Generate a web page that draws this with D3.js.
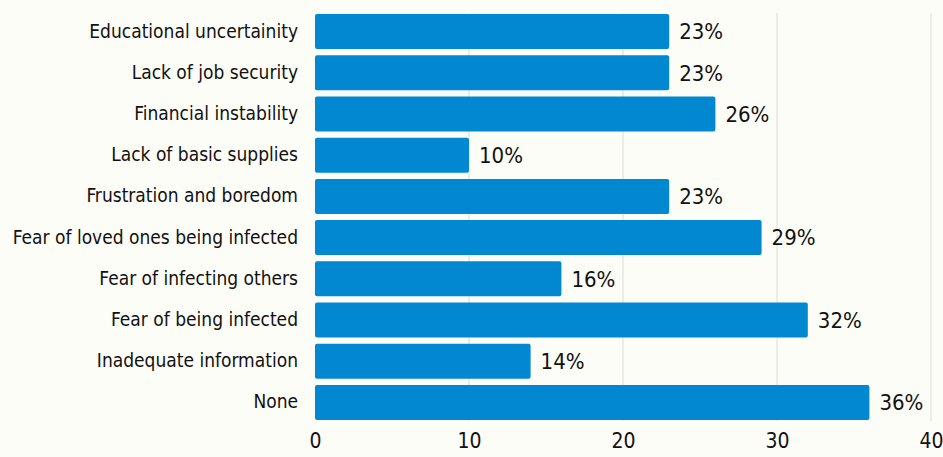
<!DOCTYPE html>
<html>
<head>
<meta charset="utf-8">
<script src="https://cdn.jsdelivr.net/npm/d3@7"></script>
<style>
  body { margin: 0; background: #fdfdf8; }
  svg text { font-family: "DejaVu Sans Condensed", "Liberation Sans Narrow", sans-serif; fill: #111; }
</style>
</head>
<body>
<div id="chart"></div>
<script>
// Categories, top to bottom
const categories = [
    "Educational uncertainity",
    "Lack of job security",
    "Financial instability",
    "Lack of basic supplies",
    "Frustration and boredom",
    "Fear of loved ones being infected",
    "Fear of infecting others",
    "Fear of being infected",
    "Inadequate information",
    "None"
];
// Share of respondents (%)
const values = [23, 23, 26, 10, 23, 29, 16, 32, 14, 36];
const xTicks = [0, 10, 20, 30, 40];

const data = categories.map((c, i) => ({ name: c, value: values[i] }));

const margin = { top: 11, right: 12, bottom: 34, left: 315 },
    width = 943 - margin.left - margin.right,
    height = 457 - margin.top - margin.bottom;

const svg = d3.select("#chart")
    .append("svg")
    .attr("width", 943)
    .attr("height", 457)
    .append("g")
    .attr("transform", "translate(" + margin.left + "," + margin.top + ")");

const x = d3.scaleLinear()
    .domain([0, 40])
    .range([0, 616]);

const y = d3.scaleBand()
    .domain(categories)
    .range([0, 412])
    .paddingInner(0.15)
    .paddingOuter(0.075);

// Gridlines
svg.append("g")
    .selectAll("line")
    .data(xTicks.slice(1))
    .join("line")
    .attr("x1", d => x(d))
    .attr("x2", d => x(d))
    .attr("y1", y.range()[0] + 2)
    .attr("y2", y.range()[1] - 2)
    .attr("stroke", "#dcdcd6")
    .attr("stroke-width", 1);

// Bars
svg.append("g")
    .selectAll("rect")
    .data(data)
    .join("rect")
    .attr("x", x(0))
    .attr("y", d => y(d.name))
    .attr("width", d => x(d.value) - x(0))
    .attr("height", y.bandwidth())
    .attr("rx", 2)
    .attr("fill", "#0288d1");

// Value labels
svg.append("g")
    .selectAll("text")
    .data(data)
    .join("text")
    .attr("x", d => x(d.value) + 10)
    .attr("y", d => y(d.name) + y.bandwidth() / 2)
    .attr("dy", "0.35em")
    .style("font-size", "22px")
    .text(d => d.value + "%");

// Y axis (labels only)
const yAxis = svg.append("g")
    .call(d3.axisLeft(y).tickSize(0).tickPadding(17));
yAxis.select(".domain").remove();
yAxis.selectAll("text").style("font-size", "19px");

// X axis (labels only)
const xAxis = svg.append("g")
    .attr("transform", "translate(0," + height + ")")
    .call(d3.axisBottom(x).tickValues(xTicks).tickSize(0).tickPadding(10));
xAxis.select(".domain").remove();
xAxis.selectAll("text").style("font-size", "21px");
</script>
</body>
</html>
